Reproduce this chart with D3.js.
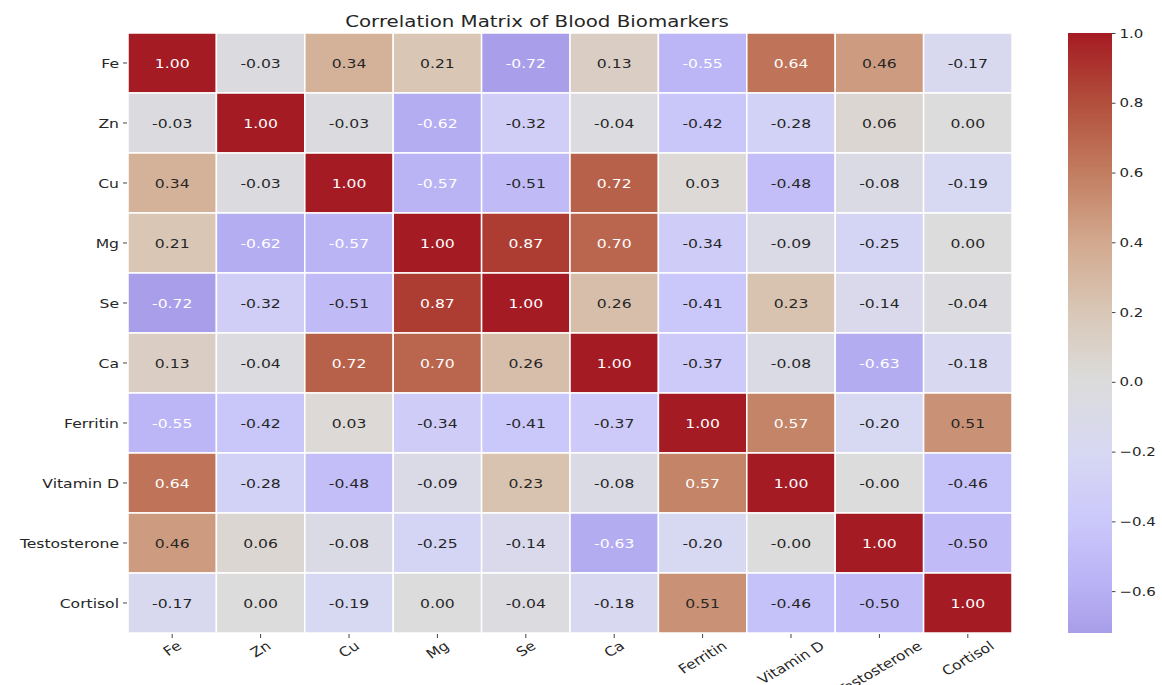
<!DOCTYPE html>
<html>
<head>
<meta charset="utf-8">
<script src="https://cdn.jsdelivr.net/npm/d3@7"></script>
<style>
  body { margin: 0; background: #fff; }
  text { font-family: "DejaVu Sans", sans-serif; }
</style>
</head>
<body>
<div id="chart"></div>
<script>
// biomarker names, same order for rows and columns
var markers = ['Fe', 'Zn', 'Cu', 'Mg', 'Se', 'Ca', 'Ferritin', 'Vitamin D', 'Testosterone', 'Cortisol'];

// correlation values, one array per row
var feRow = [1.00, -0.03, 0.34, 0.21, -0.72, 0.13, -0.55, 0.64, 0.46, -0.17];
var znRow = [-0.03, 1.00, -0.03, -0.62, -0.32, -0.04, -0.42, -0.28, 0.06, 0.00];
var cuRow = [0.34, -0.03, 1.00, -0.57, -0.51, 0.72, 0.03, -0.48, -0.08, -0.19];
var mgRow = [0.21, -0.62, -0.57, 1.00, 0.87, 0.70, -0.34, -0.09, -0.25, 0.00];
var seRow = [-0.72, -0.32, -0.51, 0.87, 1.00, 0.26, -0.41, 0.23, -0.14, -0.04];
var caRow = [0.13, -0.04, 0.72, 0.70, 0.26, 1.00, -0.37, -0.08, -0.63, -0.18];
var ferritinRow = [-0.55, -0.42, 0.03, -0.34, -0.41, -0.37, 1.00, 0.57, -0.20, 0.51];
var vitDRow = [0.64, -0.28, -0.48, -0.09, 0.23, -0.08, 0.57, 1.00, -0.004, -0.46];
var testoRow = [0.46, 0.06, -0.08, -0.25, -0.14, -0.63, -0.20, -0.004, 1.00, -0.50];
var cortisolRow = [-0.17, 0.00, -0.19, 0.00, -0.04, -0.18, 0.51, -0.46, -0.50, 1.00];

var matrix = [feRow, znRow, cuRow, mgRow, seRow, caRow, ferritinRow, vitDRow, testoRow, cortisolRow];

var cbarTicks = [1.0, 0.8, 0.6, 0.4, 0.2, 0.0, -0.2, -0.4, -0.6];

var width = 1162, height = 685;
var margin = {top: 33, left: 128, right: 150, bottom: 52};
var sx = 1.2; // the picture's text is a bit wider than tall

var svg = d3.select('#chart').append('svg')
    .attr('width', width)
    .attr('height', height);

var vmin = d3.min(matrix, r => d3.min(r)), vmax = 1.0;

var color = d3.scaleLinear()
    .domain([-0.72, -0.6, -0.4, -0.2, 0, 0.2, 0.4, 0.6, 0.8, 1.0])
    .range(['#a89ee9', '#b7b0f4', '#cbc8fb', '#d7d8f2', '#dcdcdc', '#d9c7b7', '#d2a98e', '#c27d60', '#b24f3c', '#a51b23'])
    .clamp(true);

var x = d3.scaleBand().domain(markers).range([margin.left, width - margin.right]);
var y = d3.scaleBand().domain(markers).range([margin.top, height - margin.bottom]);

var cells = [];
matrix.forEach((row, i) => row.forEach((v, j) => cells.push({r: markers[i], c: markers[j], v: v})));

svg.selectAll('rect.cell')
    .data(cells)
    .enter()
    .append('rect')
    .attr('class', 'cell')
    .attr('x', d => x(d.c))
    .attr('y', d => y(d.r))
    .attr('width', x.bandwidth())
    .attr('height', y.bandwidth())
    .style('fill', d => color(d.v))
    .style('stroke', '#fff')
    .style('stroke-width', 1.5);

svg.selectAll('text.annot')
    .data(cells)
    .enter()
    .append('text')
    .attr('class', 'annot')
    .attr('transform', d => `translate(${x(d.c) + x.bandwidth() / 2}, ${y(d.r) + y.bandwidth() / 2}) scale(${sx},1)`)
    .attr('text-anchor', 'middle')
    .attr('dominant-baseline', 'central')
    .style('font-size', '13px')
    .style('fill', d => Math.abs(d.v) >= 0.55 ? '#ffffff' : '#262626')
    .text(d => d.v.toFixed(2));

// y axis labels + ticks
var yl = svg.append('g');
markers.forEach(m => {
    var cy = y(m) + y.bandwidth() / 2;
    yl.append('line')
        .attr('x1', margin.left - 5).attr('x2', margin.left - 1)
        .attr('y1', cy).attr('y2', cy)
        .style('stroke', '#444').style('stroke-width', 1);
    yl.append('text')
        .attr('transform', `translate(${margin.left - 9}, ${cy}) scale(${sx},1)`)
        .attr('text-anchor', 'end')
        .attr('dominant-baseline', 'central')
        .style('font-size', '13px')
        .style('fill', '#262626')
        .text(m);
});

// x axis labels, rotated and centred on the tick
var xl = svg.append('g');
var bottom = height - margin.bottom;
var rot = 35 * Math.PI / 180;
markers.forEach(m => {
    var cx = x(m) + x.bandwidth() / 2;
    xl.append('line')
        .attr('x1', cx).attr('x2', cx)
        .attr('y1', bottom + 1).attr('y2', bottom + 5)
        .style('stroke', '#444').style('stroke-width', 1);
    var t = xl.append('text')
        .attr('text-anchor', 'middle')
        .attr('dominant-baseline', 'central')
        .style('font-size', '13px')
        .style('fill', '#262626')
        .text(m);
    var w = t.node().getComputedTextLength();
    var half = (w * Math.sin(rot) + 13 * Math.cos(rot)) / 2;
    t.attr('transform', `translate(${cx}, ${bottom + 6 + half}) scale(${sx},1) rotate(-35)`);
});

// title
svg.append('text')
    .attr('transform', `translate(537, 27) scale(${sx},1)`)
    .attr('text-anchor', 'middle')
    .style('font-size', '16.5px')
    .style('fill', '#262626')
    .text('Correlation Matrix of Blood Biomarkers');

// colour bar
var cb = {x: 1068, w: 44};
var cbY = d3.scaleLinear().domain([vmax, vmin]).range([margin.top, height - margin.bottom]);

var grad = svg.append('defs').append('linearGradient')
    .attr('id', 'cbarGrad')
    .attr('x1', 0).attr('y1', 0).attr('x2', 0).attr('y2', 1);
d3.range(0, 1.0001, 0.02).forEach(t => {
    grad.append('stop')
        .attr('offset', t)
        .attr('stop-color', color(vmax - t * (vmax - vmin)));
});

svg.append('rect')
    .attr('x', cb.x)
    .attr('y', cbY(vmax))
    .attr('width', cb.w)
    .attr('height', cbY(vmin) - cbY(vmax))
    .style('fill', 'url(#cbarGrad)');

var cbAxis = d3.axisRight(cbY)
    .tickValues(cbarTicks)
    .tickSize(3.5)
    .tickPadding(4)
    .tickFormat(d3.format('.1f'));

var cbG = svg.append('g')
    .attr('transform', `translate(${cb.x + cb.w}, 0)`)
    .call(cbAxis);
cbG.select('.domain').remove();
cbG.selectAll('.tick line').style('stroke', '#444');
cbG.selectAll('.tick text')
    .style('font-size', '12.5px')
    .style('fill', '#262626')
    .attr('transform', `scale(${sx},1)`)
    .attr('x', 7.5 / sx);
</script>
</body>
</html>
